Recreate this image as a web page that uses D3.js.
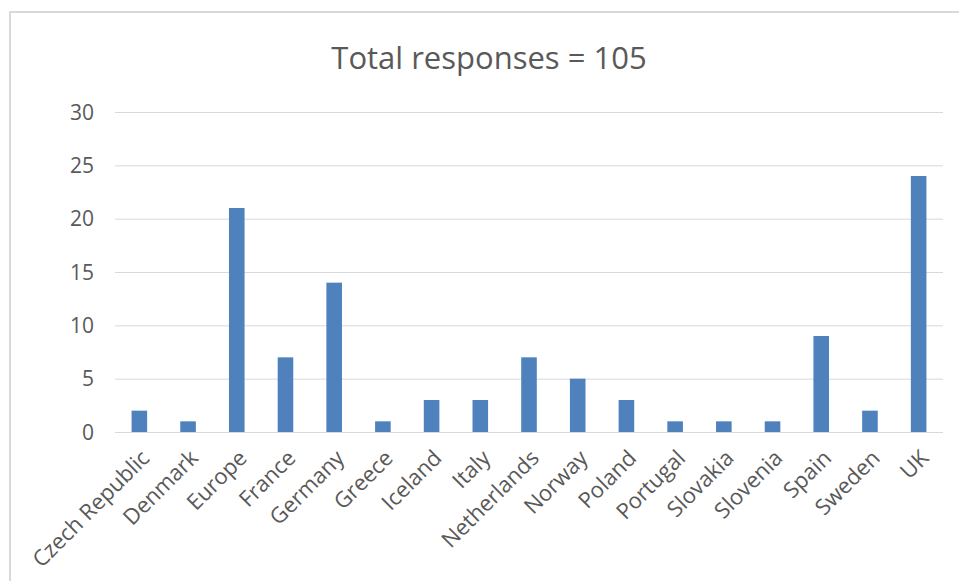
<!DOCTYPE html>
<html>
<head>
<meta charset="utf-8">
<script src="https://cdn.jsdelivr.net/npm/d3@7/dist/d3.min.js"></script>
<style>
  html, body { margin: 0; padding: 0; background: #fff; }
  svg { display: block; font-family: "Open Sans", sans-serif; }
  .grid line { stroke: #d9d9d9; stroke-width: 1; }
  .tick-label { fill: #595959; font-size: 21px; }
  .cat-label { fill: #595959; font-size: 22px; }
</style>
</head>
<body>
<div id="chart"></div>
<script>
// ---- Data ----
var CATEGORIES = [
  'Czech Republic', 'Denmark', 'Europe', 'France', 'Germany', 'Greece',
  'Iceland', 'Italy', 'Netherlands', 'Norway', 'Poland', 'Portugal',
  'Slovakia', 'Slovenia', 'Spain', 'Sweden', 'UK'
];
var RESPONSES = [2, 1, 21, 7, 14, 1, 3, 3, 7, 5, 3, 1, 1, 1, 9, 2, 24];
var Y_TICKS = [0, 5, 10, 15, 20, 25, 30];
var TITLE = 'Total responses = 105';

var width = 959, height = 581;
var margin = { top: 112, right: 16, bottom: 149, left: 115 };
var innerW = width - margin.left - margin.right;
var innerH = height - margin.top - margin.bottom;

var svg = d3.select('#chart').append('svg')
  .attr('width', width)
  .attr('height', height);

// Chart frame (runs off the right and bottom edges)
svg.append('rect')
  .attr('x', 10).attr('y', 12)
  .attr('width', 960).attr('height', 580)
  .attr('fill', 'none')
  .attr('stroke', '#d9d9d9')
  .attr('stroke-width', 2);

// Title
svg.append('text')
  .attr('x', 489).attr('y', 69)
  .attr('text-anchor', 'middle')
  .attr('fill', '#595959')
  .style('font-size', '31px')
  .text(TITLE);

var g = svg.append('g')
  .attr('transform', 'translate(' + margin.left + ',' + margin.top + ')');

var x = d3.scaleBand()
  .domain(CATEGORIES)
  .range([0, innerW])
  .paddingInner(0.68)
  .paddingOuter(0.34);

var y = d3.scaleLinear()
  .domain([0, 30])
  .range([innerH, 0]);

// Gridlines
g.append('g')
  .attr('class', 'grid')
  .selectAll('line')
  .data(Y_TICKS)
  .enter().append('line')
  .attr('x1', 0).attr('x2', innerW)
  .attr('y1', function (d) { return y(d) + 0.5; })
  .attr('y2', function (d) { return y(d) + 0.5; });

// Y tick labels
g.append('g')
  .selectAll('text')
  .data(Y_TICKS)
  .enter().append('text')
  .attr('class', 'tick-label')
  .attr('x', -21)
  .attr('y', function (d) { return y(d); })
  .attr('dy', '0.36em')
  .attr('text-anchor', 'end')
  .text(function (d) { return d; });

// Bars
g.append('g')
  .selectAll('rect')
  .data(RESPONSES)
  .enter().append('rect')
  .attr('x', function (d, i) { return x(CATEGORIES[i]); })
  .attr('y', function (d) { return y(d); })
  .attr('width', x.bandwidth())
  .attr('height', function (d) { return innerH - y(d); })
  .attr('fill', '#4f81bd');

// Category labels, rotated -45
g.append('g')
  .selectAll('text')
  .data(CATEGORIES)
  .enter().append('text')
  .attr('class', 'cat-label')
  .attr('text-anchor', 'end')
  .attr('dy', '0.35em')
  .attr('transform', function (d) {
    var cx = x(d) + x.bandwidth() / 2;
    return 'translate(' + (cx + 6) + ',' + (innerH + 22) + ') rotate(-45)';
  })
  .text(function (d) { return d; });
</script>
</body>
</html>
